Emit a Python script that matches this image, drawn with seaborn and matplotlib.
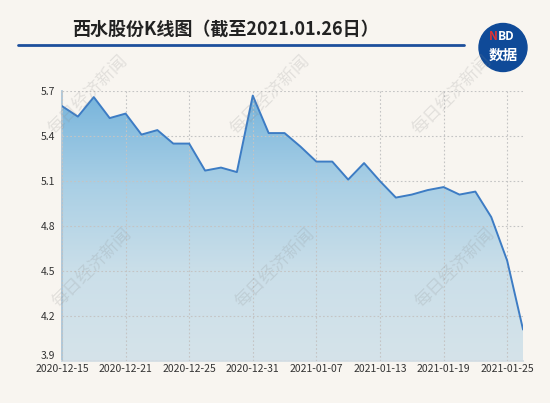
import seaborn as sns
import matplotlib.pyplot as plt
import matplotlib.patches as patches
import numpy as np
import pandas as pd

sns.set_theme(style="white")
plt.rcParams['font.family'] = ['Noto Sans CJK SC', 'DejaVu Sans']

## Data
dates = ["2020-12-15", "2020-12-16", "2020-12-17", "2020-12-18", "2020-12-21",
         "2020-12-22", "2020-12-23", "2020-12-24", "2020-12-25", "2020-12-28",
         "2020-12-29", "2020-12-30", "2020-12-31", "2021-01-04", "2021-01-05",
         "2021-01-06", "2021-01-07", "2021-01-08", "2021-01-11", "2021-01-12",
         "2021-01-13", "2021-01-14", "2021-01-15", "2021-01-18", "2021-01-19",
         "2021-01-20", "2021-01-21", "2021-01-22", "2021-01-25", "2021-01-26"]
close = [5.60, 5.53, 5.66, 5.52, 5.55, 5.41, 5.44, 5.35, 5.35, 5.17,
         5.19, 5.16, 5.67, 5.42, 5.42, 5.33, 5.23, 5.23, 5.11, 5.22,
         5.10, 4.99, 5.01, 5.04, 5.06, 5.01, 5.03, 4.86, 4.57, 4.11]
y_ticks = [3.9, 4.2, 4.5, 4.8, 5.1, 5.4, 5.7]
title = "西水股份K线图（截至2021.01.26日）"
watermark = "每日经济新闻"

data = pd.DataFrame({"idx": np.arange(len(dates)), "date": dates, "close": close})

bg = "#f8f5f0"
fig = plt.figure(figsize=(5.5, 4.03), dpi=100, facecolor=bg)
ax = fig.add_axes([0.1127, 0.104, 0.8383, 0.670])
ax.set_facecolor(bg)

#--Line
sns.lineplot(x="idx", y="close", data=data, ax=ax, color="#3d7cc4", linewidth=1.4, zorder=4)

#--Gradient fill under the line
ymin, ymax = 3.9, 5.7
fill = ax.fill_between(data["idx"], data["close"], ymin, color="none", zorder=2)
grad = np.linspace(0, 1, 256).reshape(-1, 1)
cmap = plt.matplotlib.colors.LinearSegmentedColormap.from_list("g", ["#d5e3ea", "#cbdfe9", "#a9cfe5", "#78b5dc"])
img = ax.imshow(grad, cmap=cmap, aspect="auto", origin="lower",
                extent=[0, len(dates) - 1, ymin, max(close)], zorder=2)
path = fill.get_paths()[0]
img.set_clip_path(path, transform=ax.transData)

#--Axes
ax.set_xlim(0, len(dates) - 1)
ax.set_ylim(ymin, ymax)
ax.set_yticks(y_ticks)
ax.set_yticklabels([f"{v:.1f}" for v in y_ticks])
xt = list(range(0, len(dates), 4))
ax.set_xticks(xt)
ax.set_xticklabels([dates[i] for i in xt])
ax.tick_params(axis="both", labelsize=7.5, colors="#333333", length=0)
ax.tick_params(axis="y", pad=5)
ax.tick_params(axis="x", pad=2)
ax.set_xlabel("")
ax.set_ylabel("")
ax.grid(True, linestyle=(0, (1.5, 2)), color="#c4c4c4", linewidth=0.8, zorder=3)
ax.set_axisbelow(False)
for s in ["top", "right"]:
    ax.spines[s].set_visible(False)
ax.spines["left"].set_color("#a8c3d6")
ax.spines["bottom"].set_color("#d3dde4")
ax.get_yticklabels()[0].set_verticalalignment("bottom")

#--Title + rule
fig.text(0.41, 0.928, title, ha="center", va="center", fontsize=13, fontweight="bold", color="#222222")
fig.add_artist(plt.Line2D([18 / 550, 464 / 550], [1 - 45 / 403, 1 - 45 / 403], color="#1d4f9c", linewidth=2))

#--NBD badge
r = 24
badge = patches.Ellipse((503 / 550, 1 - 47.5 / 403), 2 * r / 550, 2 * r / 403,
                        transform=fig.transFigure, color="#0f4a98", zorder=5)
fig.add_artist(badge)
fig.text(498 / 550, 1 - 37 / 403, "N", color="#e8312f", fontsize=8.5, fontweight="bold",
         ha="right", va="center", zorder=6)
fig.text(498 / 550, 1 - 37 / 403, "BD", color="white", fontsize=8.5, fontweight="bold",
         ha="left", va="center", zorder=6)
fig.text(503 / 550, 1 - 55 / 403, "数据", color="white", fontsize=10.5, fontweight="bold",
         ha="center", va="center", zorder=6)

#--Watermarks
for cx, cy in [(88, 95), (270, 95), (452, 95), (92, 268), (275, 268), (455, 268)]:
    fig.text(cx / 550, 1 - cy / 403, watermark, rotation=45, fontsize=12.5,
             color="#8a8a8a", alpha=0.2, ha="center", va="center", zorder=7)

fig.savefig("out.png", dpi=100, facecolor=bg)
plt.close()
